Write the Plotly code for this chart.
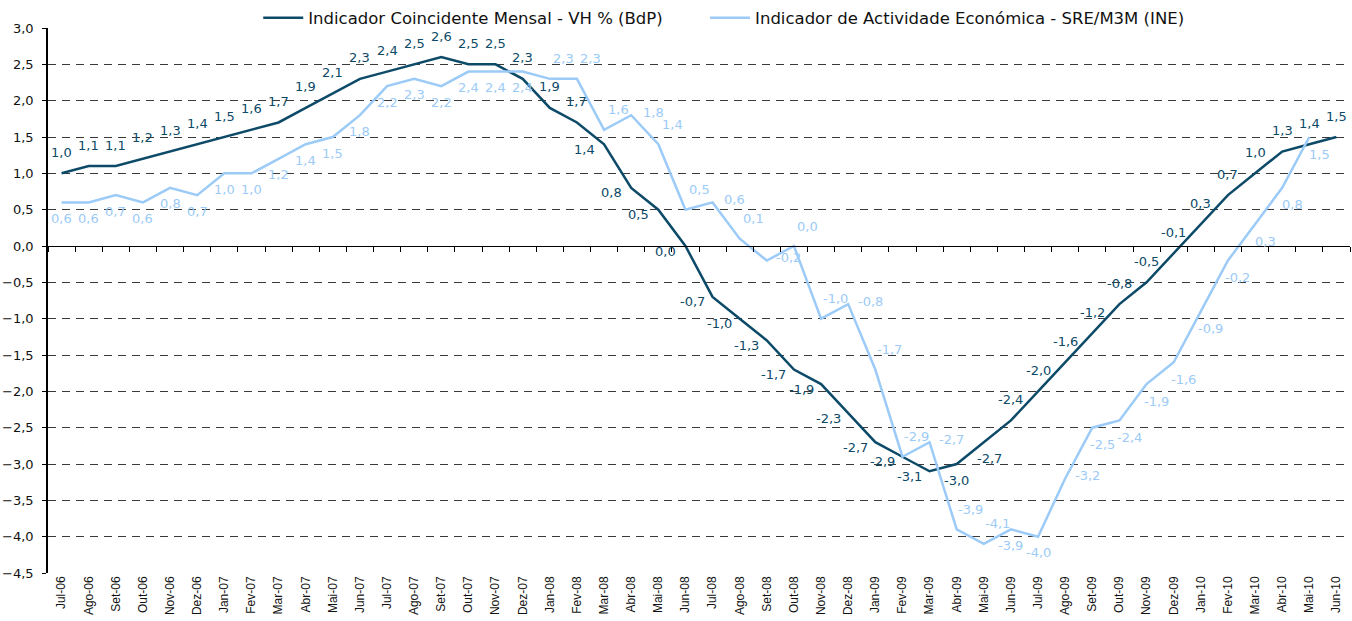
import plotly.graph_objects as go

meses = ["Jan", "Fev", "Mar", "Abr", "Mai", "Jun", "Jul", "Ago", "Set", "Out", "Nov", "Dez"]
categorias = [f"{m}-06" for m in meses[6:]] + [f"{m}-07" for m in meses] + \
    [f"{m}-08" for m in meses] + [f"{m}-09" for m in meses] + [f"{m}-10" for m in meses[:6]]

bdp = [1.0, 1.1, 1.1, 1.2, 1.3, 1.4,
       1.5, 1.6, 1.7, 1.9, 2.1, 2.3, 2.4, 2.5, 2.6, 2.5, 2.5, 2.3,
       1.9, 1.7, 1.4, 0.8, 0.5, 0.0, -0.7, -1.0, -1.3, -1.7, -1.9, -2.3,
       -2.7, -2.9, -3.1, -3.0, -2.7, -2.4, -2.0, -1.6, -1.2, -0.8, -0.5, -0.1,
       0.3, 0.7, 1.0, 1.3, 1.4, 1.5]

ine = [0.6, 0.6, 0.7, 0.6, 0.8, 0.7,
       1.0, 1.0, 1.2, 1.4, 1.5, 1.8, 2.2, 2.3, 2.2, 2.4, 2.4, 2.4,
       2.3, 2.3, 1.6, 1.8, 1.4, 0.5, 0.6, 0.1, -0.2, 0.0, -1.0, -0.8,
       -1.7, -2.9, -2.7, -3.9, -4.1, -3.9, -4.0, -3.2, -2.5, -2.4, -1.9, -1.6,
       -0.9, -0.2, 0.3, 0.8, 1.5]

nome_bdp = "Indicador Coincidente Mensal - VH % (BdP)"
nome_ine = "Indicador de Actividade Económica - SRE/M3M (INE)"

cor_bdp = "#0D4A68"
cor_ine = "#9CCBF7"
fonte = "DejaVu Sans"

# label placement (pixel offsets) like the original excel labels
desloc = {
    "cima": (0, -21), "esq": (-20, 5), "baixo": (0, 16), "baixo_dir": (6, 16),
    "cima_dir": (14, -20), "dir": (22, -3), "baixo_dir2": (10, 17),
}
pos_bdp = ["cima"] * 20 + ["esq"] * 13 + ["baixo", "baixo_dir"] + ["cima"] * 13
pos_ine = (["baixo"] * 18 + ["cima_dir"] * 3 + ["dir"] + ["cima_dir"] * 2 + ["dir", "cima_dir", "dir",
           "cima_dir", "cima_dir", "dir", "cima_dir", "cima_dir", "dir", "cima_dir", "cima_dir"]
           + ["baixo"] * 2 + ["dir"] + ["baixo_dir2"] * 9)


def rotulo(v):
    return f"{v:.1f}".replace(".", ",")


fig = go.Figure()
fig.add_trace(go.Scatter(
    x=list(range(len(bdp))), y=bdp, name=nome_bdp, mode="lines",
    line=dict(color=cor_bdp, width=2.5), legend="legend",
))
fig.add_trace(go.Scatter(
    x=list(range(len(ine))), y=ine, name=nome_ine, mode="lines",
    line=dict(color=cor_ine, width=2.5), legend="legend2",
))
# invisible trace so the axis at zero gets drawn
fig.add_trace(go.Scatter(x=[0], y=[0], xaxis="x2", mode="markers",
                         marker=dict(opacity=0), showlegend=False, hoverinfo="skip"))

for serie, posicoes, cor in [(bdp, pos_bdp, cor_bdp), (ine, pos_ine, cor_ine)]:
    for i, (v, p) in enumerate(zip(serie, posicoes)):
        dx, dy = desloc[p]
        fig.add_annotation(x=i, y=v, text=rotulo(v), showarrow=False,
                           xshift=dx, yshift=-dy,
                           font=dict(family=fonte, size=13, color=cor))

leg = dict(orientation="h", xref="container", yref="container", xanchor="left",
           y=0.971, yanchor="middle", bgcolor="white",
           font=dict(size=16.5, family=fonte), itemwidth=40)

fig.update_layout(
    width=1352, height=621,
    margin=dict(l=48, r=2, t=28, b=48, autoexpand=False),
    paper_bgcolor="white", plot_bgcolor="white",
    font=dict(family=fonte, size=13, color="#111111"),
    separators=",.",
    showlegend=True,
    legend=dict(leg, x=0.191),
    legend2=dict(leg, x=0.5215),
    xaxis=dict(
        range=[-0.5, len(categorias) - 0.5],
        tickmode="array", tickvals=list(range(len(categorias))), ticktext=categorias,
        tickangle=-90, tickfont=dict(size=12, family="Liberation Sans"),
        showgrid=False, zeroline=False, showline=False, ticks="",
        automargin=False,
    ),
    xaxis2=dict(
        overlaying="x", anchor="free", position=0.6,
        range=[-0.5, len(categorias) - 0.5],
        tickmode="array", tickvals=[i - 0.5 for i in range(len(categorias) + 1)],
        showticklabels=False, ticks="outside", ticklen=5, tickcolor="black",
        showline=True, linecolor="black", linewidth=1,
        showgrid=False, zeroline=False, automargin=False,
    ),
    yaxis=dict(
        range=[-4.5, 3.0], dtick=0.5, tickformat=".1f",
        showgrid=True, gridcolor="#3a3a3a", griddash="8px,6px", gridwidth=1,
        zeroline=False, showline=True, linecolor="black", linewidth=1.5,
        ticks="outside", ticklen=4, tickcolor="black", ticklabelstandoff=6,
        automargin=False,
    ),
)

# page body has a default 8px margin; drop it so the figure sits at the corner
fig.write_html("out.html", config={"displayModeBar": False},
               post_script="document.body.style.margin='0';")
